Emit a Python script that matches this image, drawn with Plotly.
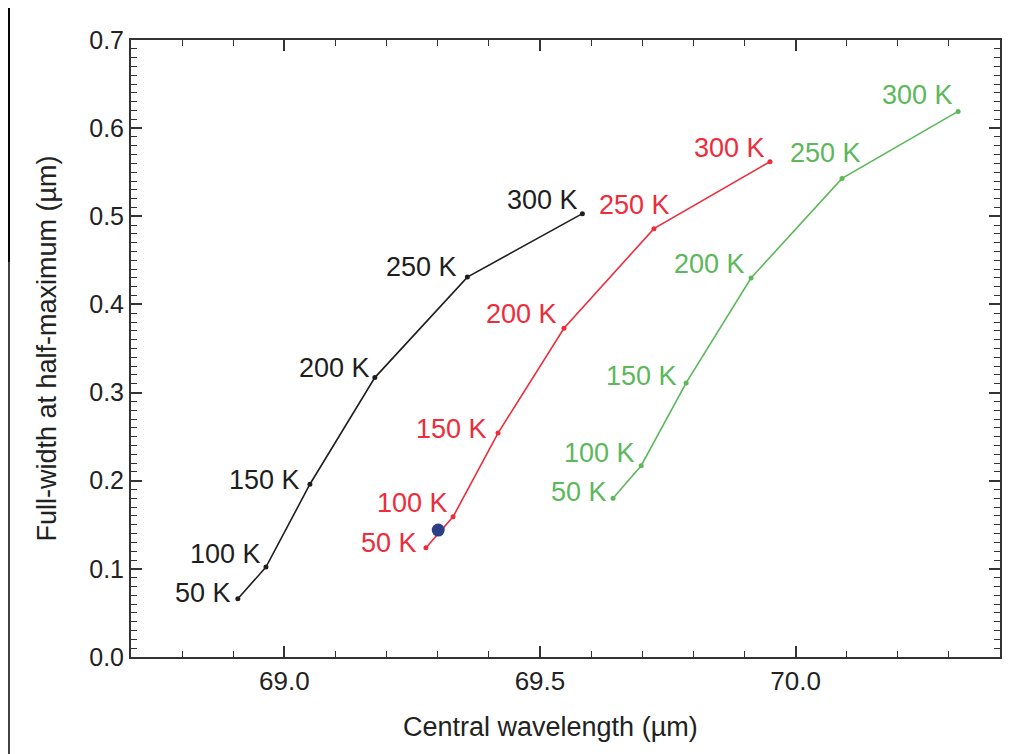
import plotly.graph_objects as go

# ---- data ----
temp_labels = ["50 K", "100 K", "150 K", "200 K", "250 K", "300 K"]

black_x = [68.909, 68.964, 69.050, 69.177, 69.358, 69.583]
black_y = [0.066, 0.102, 0.196, 0.317, 0.431, 0.503]

red_x = [69.277, 69.330, 69.418, 69.547, 69.723, 69.950]
red_y = [0.124, 0.159, 0.254, 0.373, 0.486, 0.562]

green_x = [69.643, 69.698, 69.786, 69.913, 70.091, 70.318]
green_y = [0.180, 0.217, 0.311, 0.430, 0.543, 0.619]

measured_x = [69.301]
measured_y = [0.144]

x_title = "Central wavelength (µm)"
y_title = "Full-width at half-maximum (µm)"

# ---- style ----
BLACK = "#1e1e1e"
RED = "#ee2c3c"
GREEN = "#5cb85a"
NAVY = "#2c3e86"
FONT = "Liberation Sans, Arial, Helvetica, sans-serif"

# label offsets (pixels): xshift of right edge, yshift (up positive)
black_off = [(-6, 6), (-4, 13), (-9, 4), (-4, 10), (-9, 10), (-3, 14)]
red_off = [(-8, 5), (-4, 14), (-10, 4), (-6, 14), (17, 24), (-4, 14)]
green_off = [(-5, 6), (-5, 13), (-8, 7), (-5, 14), (20, 25), (-4, 16)]

fig = go.Figure()

for xs, ys, col in [(black_x, black_y, BLACK), (red_x, red_y, RED), (green_x, green_y, GREEN)]:
    fig.add_trace(go.Scatter(
        x=xs, y=ys, mode="lines+markers",
        line=dict(color=col, width=1.6),
        marker=dict(color=col, size=5),
        showlegend=False, hoverinfo="x+y",
    ))

fig.add_trace(go.Scatter(
    x=measured_x, y=measured_y, mode="markers",
    marker=dict(color=NAVY, size=13),
    showlegend=False,
))

annotations = []
for xs, ys, col, offs in [(black_x, black_y, BLACK, black_off),
                          (red_x, red_y, RED, red_off),
                          (green_x, green_y, GREEN, green_off)]:
    for x, y, t, (dx, dy) in zip(xs, ys, temp_labels, offs):
        annotations.append(dict(
            x=x, y=y, xref="x", yref="y", text=t, showarrow=False,
            xanchor="right", yanchor="middle", xshift=dx, yshift=dy,
            borderpad=0,
            font=dict(family=FONT, size=27, color=col),
        ))

# figure geometry (page has an 8px body margin)
W, H = 1011, 746
L, R, T, B = 123, 19, 32, 97
pw, ph = W - L - R, H - T - B
OFF = 8


def px(page_x):
    return (page_x - OFF - L) / pw


def py(page_y):
    return (OFF + T + ph - page_y) / ph


# x-axis title (placed slightly left of the plot centre, as in the original)
annotations.append(dict(
    x=px(550), y=py(727), xref="paper", yref="paper", text=x_title, showarrow=False,
    xanchor="center", yanchor="middle",
    font=dict(family=FONT, size=27, color="#222222"),
))

# screenshot frame remnants on the left edge
shapes = [
    dict(type="rect", xref="paper", yref="paper", x0=px(0), x1=px(10), y0=py(262), y1=py(0),
         fillcolor="#050908", line=dict(width=0), layer="above"),
    dict(type="rect", xref="paper", yref="paper", x0=px(0), x1=px(10), y0=py(H + 20), y1=py(262),
         fillcolor="#424242", line=dict(width=0), layer="above"),
]

axis_common = dict(
    showgrid=False, zeroline=False, showline=True, linecolor="#333333", linewidth=2,
    mirror="allticks", ticks="inside", ticklen=11, tickwidth=1.5, tickcolor="#333333",
)

fig.update_layout(
    width=W, height=H,
    margin=dict(l=L, r=R, t=T, b=B),
    paper_bgcolor="white", plot_bgcolor="white",
    font=dict(family=FONT, color="#222222"),
    xaxis=dict(
        range=[68.7, 70.4], tickmode="linear", tick0=69.0, dtick=0.5, tickformat=".1f",
        minor=dict(dtick=0.1, ticklen=6, ticks="inside", tickcolor="#333333", tickwidth=1.2, showgrid=False),
        tickfont=dict(size=26, color="#222222"),
        **axis_common,
    ),
    yaxis=dict(
        range=[0, 0.7], tickmode="linear", tick0=0, dtick=0.1, tickformat=".1f",
        minor=dict(dtick=0.01, ticklen=6, ticks="inside", tickcolor="#333333", tickwidth=1.2, showgrid=False),
        tickfont=dict(size=25, color="#222222"),
        title=dict(text=y_title, font=dict(size=27, color="#222222"), standoff=25),
        **axis_common,
    ),
    annotations=annotations,
    shapes=shapes,
)

fig.write_html("out.html")
